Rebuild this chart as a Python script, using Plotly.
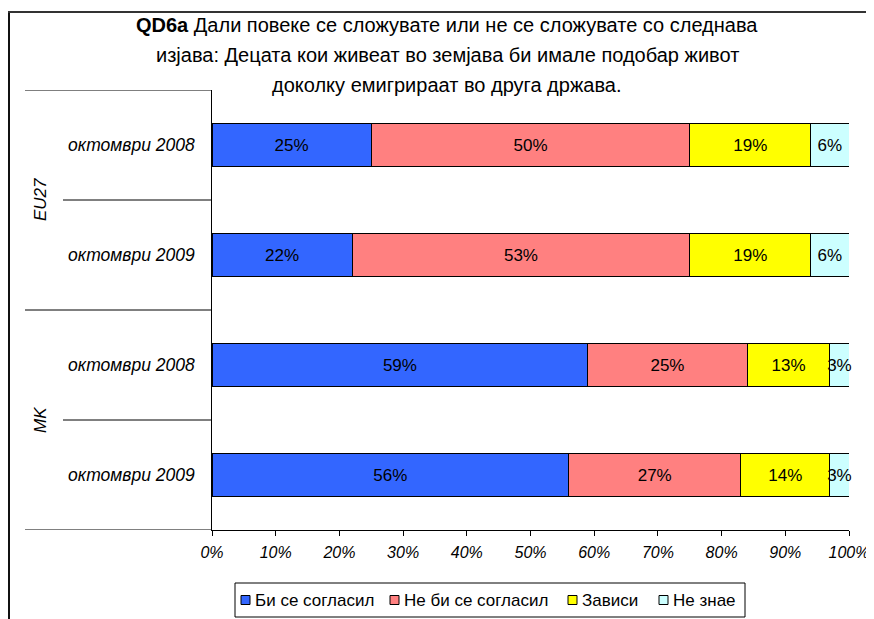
import plotly.graph_objects as go

# page offsets: the browser body has an 8px margin
OX, OY = 8, 8
W, H = 874 - OX, 619 - OY

categories = ["октомври 2008", "октомври 2009", "октомври 2008", "октомври 2009"]
groups = ["EU27", "MK"]
series_names = ["Би се согласил", "Не би се согласил", "Зависи", "Не знае"]
agree = [25, 22, 59, 56]
disagree = [50, 53, 25, 27]
depends = [19, 19, 13, 14]
dont_know = [6, 6, 3, 3]
x_ticks = [0, 10, 20, 30, 40, 50, 60, 70, 80, 90, 100]
title_lines = [
    "<b>QD6a</b> Дали повеке се сложувате или не се сложувате со следнава",
    "изјава: Децата кои живеат во земјава би имале подобар живот",
    "доколку емигрираат во друга држава.",
]

colors = ["#3366FF", "#FF8080", "#FFFF00", "#CCFFFF"]
FONT = "Liberation Sans, Arial, sans-serif"


def px(x):
    return (x - OX) / W


def py(y):
    return 1 - (y - OY) / H


ypos = list(range(len(categories)))
fig = go.Figure()
for name, vals, col in zip(series_names, [agree, disagree, depends, dont_know], colors):
    fig.add_trace(go.Bar(
        y=ypos, x=vals, name=name, orientation="h",
        marker=dict(color=col, line=dict(color="black", width=1)),
        text=[f"{v}%" for v in vals], textposition="inside", textangle=0,
        insidetextanchor="middle", constraintext="none",
        textfont=dict(color="black", size=17, family=FONT),
        cliponaxis=False, hoverinfo="skip", showlegend=False,
    ))

plot_top, plot_bot = 90, 530
fig.update_layout(
    template="none",
    width=W, height=H, margin=dict(l=0, r=0, t=0, b=0, pad=0, autoexpand=False),
    paper_bgcolor="white", plot_bgcolor="white",
    barmode="stack", bargap=0.61,
    font=dict(family=FONT, color="black"),
    xaxis=dict(domain=[px(212), px(849)], range=[0, 100], tickvals=x_ticks,
               ticktext=[f"{t}%" for t in x_ticks], ticks="outside", ticklen=5,
               tickcolor="black", tickwidth=1, showline=True, linecolor="black",
               linewidth=1, showgrid=False, zeroline=False, fixedrange=True,
               automargin=False, ticklabelstandoff=3,
               tickfont=dict(size=16, style="italic", family=FONT, color="black")),
    yaxis=dict(domain=[py(plot_bot), py(plot_top)], range=[3.5, -0.5],
               showticklabels=False, ticks="", showline=True, linecolor="black",
               linewidth=1, showgrid=False, zeroline=False, fixedrange=True,
               automargin=False),
    showlegend=False,
)

shapes = []
# outer frame (left and top edges)
shapes.append(dict(type="line", xref="paper", yref="paper", x0=px(9), x1=px(9),
                   y0=py(11), y1=0, line=dict(color="#111", width=2)))
shapes.append(dict(type="line", xref="paper", yref="paper", x0=px(8), x1=1,
                   y0=py(12), y1=py(12), line=dict(color="#333", width=2)))
# group separators
for yb in [-0.5, 1.5, 3.5]:
    shapes.append(dict(type="line", xref="paper", yref="y", x0=px(25), x1=px(212),
                       y0=yb, y1=yb, line=dict(color="black", width=1)))
for yb in [0.5, 2.5]:
    shapes.append(dict(type="line", xref="paper", yref="y", x0=px(63), x1=px(212),
                       y0=yb, y1=yb, line=dict(color="black", width=1)))

ann = []
for i, line in enumerate(title_lines):
    ann.append(dict(text=line, xref="paper", yref="paper", x=px(447), y=py(25 + 30 * i),
                    xanchor="center", yanchor="middle", showarrow=False,
                    font=dict(size=20, family=FONT)))
for i, c in enumerate(categories):
    ann.append(dict(text=c, xref="paper", yref="y", x=px(197), y=i, xanchor="right",
                    yanchor="middle", showarrow=False,
                    font=dict(size=17.5, style="italic", family=FONT)))
for gi, g in enumerate(groups):
    ann.append(dict(text=g, xref="paper", yref="y", x=px(40), y=gi * 2 + 0.5,
                    xanchor="center", yanchor="middle", showarrow=False, textangle=-90,
                    font=dict(size=17, style="italic", family=FONT)))

# legend box with squares and labels
leg_box = (235, 583, 745, 617)
shapes.append(dict(type="rect", xref="paper", yref="paper",
                   x0=px(leg_box[0]), x1=px(leg_box[2]),
                   y0=py(leg_box[3]), y1=py(leg_box[1]),
                   line=dict(color="black", width=1), fillcolor="white", layer="above"))
sq_left = [241, 390, 568, 659]
sq_size = 9
leg_cy = 600
for n, c, sx in zip(series_names, colors, sq_left):
    shapes.append(dict(type="rect", xref="paper", yref="paper",
                       x0=px(sx), x1=px(sx + sq_size),
                       y0=py(leg_cy + sq_size / 2), y1=py(leg_cy - sq_size / 2),
                       line=dict(color="black", width=1), fillcolor=c, layer="above"))
    ann.append(dict(text=n, xref="paper", yref="paper", x=px(sx + sq_size + 3),
                    y=py(leg_cy), xanchor="left", yanchor="middle", showarrow=False,
                    font=dict(size=17, family=FONT)))

fig.update_layout(shapes=shapes, annotations=ann)

fig.write_html("out.html")
